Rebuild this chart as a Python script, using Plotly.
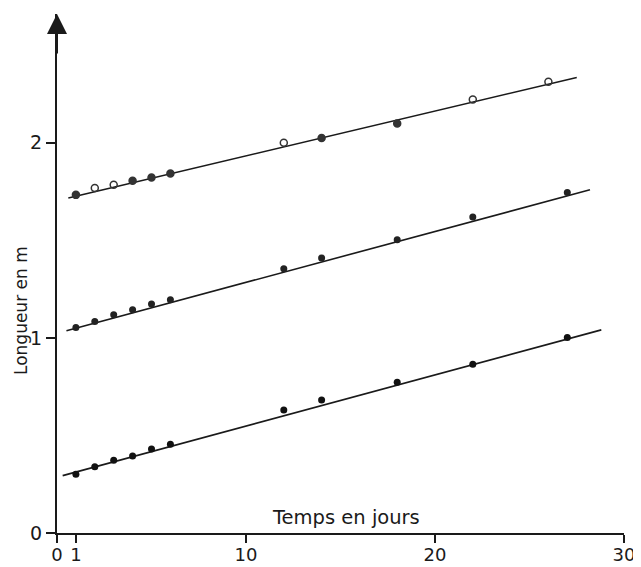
import plotly.graph_objects as go

# ---- data ----
days_top = [1, 2, 3, 4, 5, 6, 12, 14, 18, 22, 26]
len_top = [1.733, 1.768, 1.785, 1.805, 1.822, 1.843, 2.00, 2.024, 2.099, 2.222, 2.313]
open_top = [False, True, True, False, False, False, True, False, False, True, True]

days_mid = [1, 2, 3, 4, 5, 6, 12, 14, 18, 22, 27]
len_mid = [1.053, 1.084, 1.118, 1.144, 1.174, 1.195, 1.354, 1.409, 1.503, 1.619, 1.745]

days_bot = [1, 2, 3, 4, 5, 6, 12, 14, 18, 22, 27]
len_bot = [0.301, 0.340, 0.373, 0.395, 0.431, 0.455, 0.631, 0.682, 0.773, 0.865, 1.002]

fit_top_x = [0.6, 27.5]
fit_top_y = [1.717, 2.335]
fit_mid_x = [0.5, 28.2]
fit_mid_y = [1.037, 1.759]
fit_bot_x = [0.3, 28.8]
fit_bot_y = [0.294, 1.041]

x_ticks = [0, 1, 10, 20, 30]
y_ticks = [0, 1, 2]

FONT = "DejaVu Sans"
INK = "#1a1a1a"

# page body has an 8px margin; compensate so the plot lands where the reference has it
L, T, PW, PH = 49, 6, 567, 519
W, H = 641, 567

fig = go.Figure()

for fx, fy in [(fit_top_x, fit_top_y), (fit_mid_x, fit_mid_y), (fit_bot_x, fit_bot_y)]:
    fig.add_trace(go.Scatter(x=fx, y=fy, mode="lines",
                             line=dict(color=INK, width=1.6),
                             showlegend=False, hoverinfo="skip"))

fig.add_trace(go.Scatter(
    x=days_top, y=len_top, mode="markers", showlegend=False,
    marker=dict(size=7,
                symbol=["circle-open" if o else "circle" for o in open_top],
                color="#333333", line=dict(width=1.5, color="#333333"))))
fig.add_trace(go.Scatter(
    x=days_mid, y=len_mid, mode="markers", showlegend=False,
    marker=dict(size=7, symbol="circle", color="#222222")))
fig.add_trace(go.Scatter(
    x=days_bot, y=len_bot, mode="markers", showlegend=False,
    marker=dict(size=7, symbol="circle", color="#111111")))

fig.update_layout(
    width=W, height=H,
    margin=dict(l=L, r=W - L - PW, t=T, b=H - T - PH),
    paper_bgcolor="white", plot_bgcolor="white",
    font=dict(family=FONT, color=INK, size=19),
    xaxis=dict(range=[0, 30], tickvals=x_ticks, ticktext=[str(v) for v in x_ticks],
               showgrid=False, zeroline=False, showline=True, linecolor=INK, linewidth=2,
               ticks="outside", ticklen=8, tickwidth=1.5, tickcolor=INK, automargin=False,
               ticklabelstandoff=-4,
               tickfont=dict(size=18, family=FONT, color=INK)),
    yaxis=dict(range=[0, 2.66], tickvals=y_ticks, ticktext=[str(v) for v in y_ticks],
               showgrid=False, zeroline=False, showline=True, linecolor=INK, linewidth=2,
               ticks="outside", ticklen=9, tickwidth=1.5, tickcolor=INK, automargin=False,
               tickfont=dict(size=19, family=FONT, color=INK)),
    annotations=[
        dict(x=0, y=2.66, xref="x", yref="y", ax=0, ay=2.45, axref="x", ayref="y",
             showarrow=True, arrowhead=2, arrowsize=2.0, arrowwidth=2, arrowcolor=INK,
             text=""),
        dict(x=(346 - 8 - L) / PW, y=(T + PH - (517 - 8)) / PH, xref="paper", yref="paper",
             xanchor="center", yanchor="middle", showarrow=False,
             text="Temps en jours", font=dict(size=19.5, family=FONT, color=INK)),
        dict(x=(21 - 8 - L) / PW, y=(T + PH - (311 - 8)) / PH, xref="paper", yref="paper",
             xanchor="center", yanchor="middle", showarrow=False,
             text="Longueur en m", textangle=-90,
             font=dict(size=17, family=FONT, color=INK)),
    ],
)

fig.write_html("out.html")
